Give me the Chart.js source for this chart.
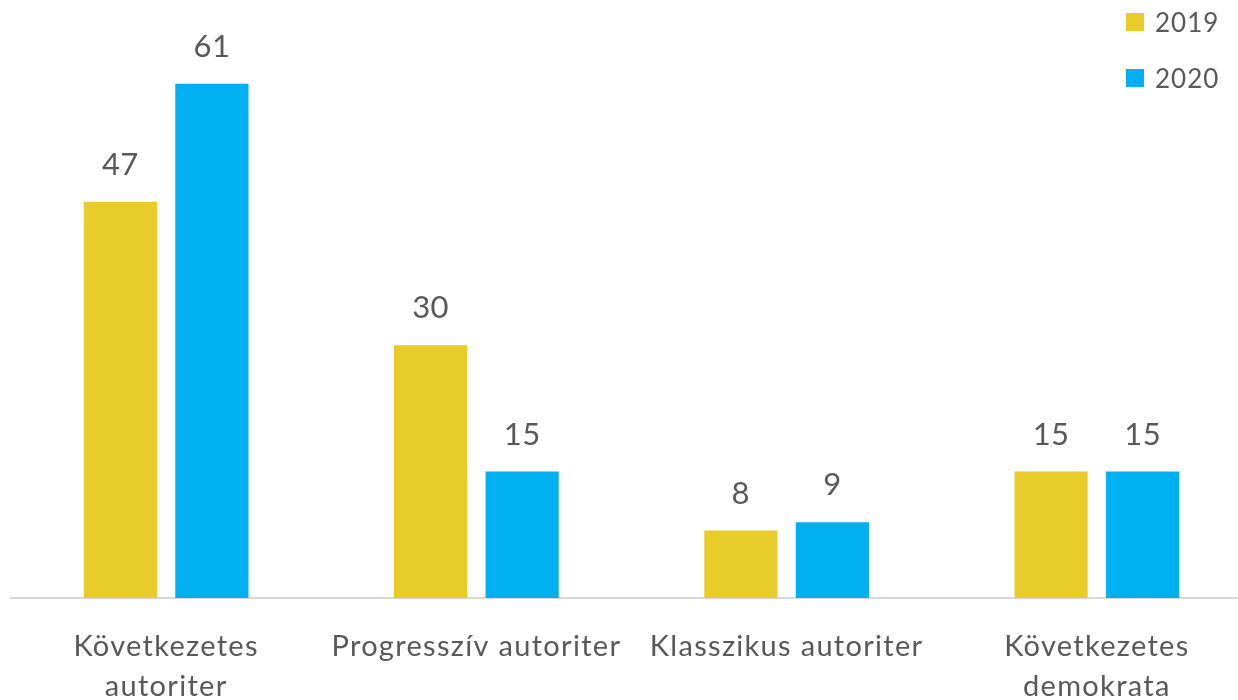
<!DOCTYPE html>
<html><head><meta charset="utf-8">
<script src="https://cdn.jsdelivr.net/npm/chart.js@4/dist/chart.umd.min.js"></script>
<style>
html,body{margin:0;padding:0;background:#fff;overflow:hidden;width:1238px;height:700px;}
#wrap{position:relative;width:1252px;height:700px;}
#legend{position:absolute;left:1126px;top:-6px;font-family:Lato,"Open Sans",sans-serif;font-size:26px;letter-spacing:1px;color:#595959;}
#legend div{display:flex;align-items:center;height:56px;}
#legend span.sw{display:inline-block;width:18px;height:18px;margin-right:11px;}
</style></head>
<body>
<div id="wrap"><canvas id="c" width="1252" height="700"></canvas><div id="legend"></div></div>
<script>
const categories = [["Következetes","autoriter"],"Progresszív autoriter","Klasszikus autoriter",["Következetes","demokrata"]];
const seriesNames = ["2019","2020"];
const values2019 = [47,30,8,15];
const values2020 = [61,15,9,15];
const colors = ["#E8CD2A","#00B0F0"];
const textColor = "#595959";
const fontFam = "Lato, 'Open Sans', sans-serif";

const spacingPlugin = {
  id:'spacing',
  beforeDraw(chart){ chart.ctx.letterSpacing = '1.3px'; }
};

const labelPlugin = {
  id:'vals',
  afterDatasetsDraw(chart){
    const ctx = chart.ctx;
    ctx.save();
    ctx.letterSpacing = '0.5px';
    ctx.font = "31px " + fontFam;
    ctx.fillStyle = textColor;
    ctx.textAlign = 'center';
    ctx.textBaseline = 'alphabetic';
    chart.data.datasets.forEach((ds,i)=>{
      chart.getDatasetMeta(i).data.forEach((bar,j)=>{
        ctx.fillText(String(ds.data[j]), bar.x, bar.y - 27);
      });
    });
    ctx.restore();
  }
};

const chart = new Chart(document.getElementById('c'),{
  type:'bar',
  data:{labels:categories,datasets:[
    {label:seriesNames[0],data:values2019,backgroundColor:colors[0]},
    {label:seriesNames[1],data:values2020,backgroundColor:colors[1]}
  ]},
  options:{
    responsive:false,animation:false,
    layout:{padding:{left:11,right:0,top:8,bottom:0}},
    datasets:{bar:{categoryPercentage:0.59,barPercentage:0.8}},
    plugins:{legend:{display:false},tooltip:{enabled:false}},
    scales:{
      y:{display:false,min:0,max:70},
      x:{
        grid:{display:false,drawTicks:false},
        border:{display:true,color:'#D9D9D9',width:2},
        ticks:{color:textColor,font:{family:fontFam,size:29,lineHeight:1.38},padding:29,maxRotation:0,autoSkip:false},
        afterFit(s){s.height=102;}
      }
    }
  },
  plugins:[spacingPlugin,labelPlugin]
});

const lg = document.getElementById('legend');
chart.data.datasets.forEach(ds=>{
  const d=document.createElement('div');
  const sw=document.createElement('span');sw.className='sw';sw.style.background=ds.backgroundColor;
  d.appendChild(sw);d.appendChild(document.createTextNode(ds.label));lg.appendChild(d);
});
</script>
</body></html>
